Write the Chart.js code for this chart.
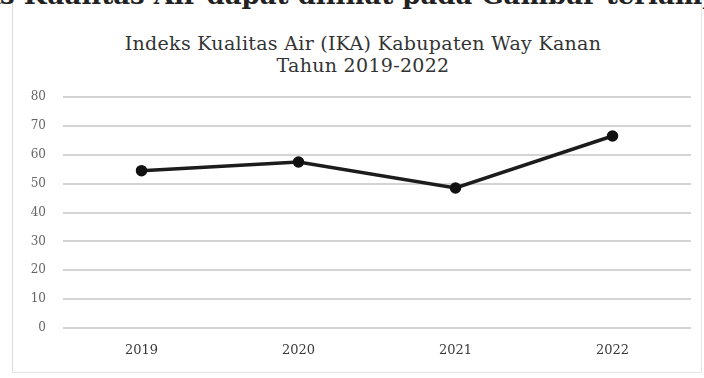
<!DOCTYPE html>
<html>
<head>
<meta charset="utf-8">
<script src="https://cdn.jsdelivr.net/npm/chart.js@4"></script>
<style>
    body { margin: 0; background: #fff; }
    #wrap { position: relative; width: 704px; height: 378px; overflow: hidden; background: #fff; }
    #frame { position: absolute; left: 12px; top: 0; width: 688px; height: 372px; border-left: 1px solid #dcdcdc; border-right: 1px solid #e6e6e6; border-bottom: 1px solid #e6e6e6; }
    #cut { position: absolute; right: -40px; top: -20px; white-space: nowrap; font: bold 26px "DejaVu Serif", serif; color: #222; }
    .ttl { position: absolute; left: 0; width: 726px; text-align: center; font: 19px "DejaVu Serif", serif; color: #333; letter-spacing: 0.3px; }
    canvas { position: absolute; left: 0; top: 0; }
</style>
</head>
<body>
<div id="wrap">
    <div id="frame"></div>
    <div id="cut">Indeks Kualitas Air dapat dilihat pada Gambar terlampir</div>
    <div class="ttl" style="top:32px">Indeks Kualitas Air (IKA) Kabupaten Way Kanan</div>
    <div class="ttl" style="top:54px">Tahun 2019-2022</div>
    <canvas id="ikaChart" width="704" height="378"></canvas>
</div>
<script>
// data
const tahun = ['2019', '2020', '2021', '2022'];
const nilaiIKA = [54.5, 57.5, 48.5, 66.5];
const yMin = 0, yMax = 80, yStep = 10;

const ctx = document.getElementById('ikaChart').getContext('2d');
new Chart(ctx, {
    type: 'line',
    data: {
        labels: tahun,
        datasets: [{
            label: 'IKA',
            data: nilaiIKA,
            borderColor: '#1c1c1c',
            backgroundColor: '#111',
            borderWidth: 3.5,
            pointRadius: 4,
            pointBackgroundColor: '#111',
            pointBorderColor: '#111',
            tension: 0
        }]
    },
    options: {
        responsive: false,
        animation: false,
        layout: { padding: { left: 13, right: 13, top: 97, bottom: 20 } },
        plugins: { legend: { display: false }, tooltip: { enabled: false } },
        scales: {
            x: {
                offset: true,
                grid: { display: false, drawTicks: false },
                border: { display: false },
                ticks: { padding: 15, color: '#3a3a3a', font: { family: 'DejaVu Serif', size: 13 } },
                afterFit: s => { s.height = 30; }
            },
            y: {
                min: yMin, max: yMax,
                grid: { color: '#d4d4d4', lineWidth: 2, drawTicks: false },
                border: { display: false },
                ticks: { stepSize: yStep, padding: 17, color: '#666', font: { family: 'DejaVu Serif', size: 12 } },
                afterFit: s => { s.width = 50; }
            }
        }
    }
});
</script>
</body>
</html>
